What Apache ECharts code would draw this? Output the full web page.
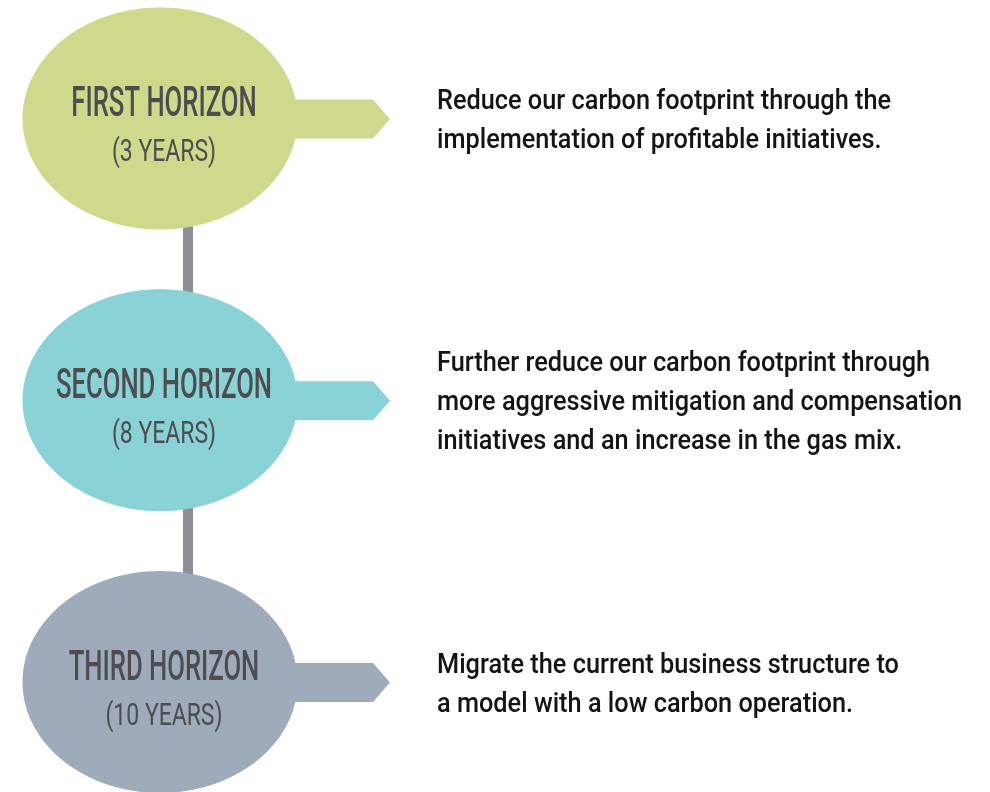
<!DOCTYPE html>
<html>
<head>
    <meta charset="UTF-8">
    <title>Horizons</title>
    <script src="https://cdn.jsdelivr.net/npm/echarts@6/dist/echarts.min.js"></script>
    <style>
        html, body { margin: 0; padding: 0; background: #ffffff; }
        #chart { width: 990px; height: 792px; }
    </style>
</head>
<body>
    <div id="chart"></div>
    <script>
        // steps of the roadmap, top to bottom
        const horizons = ['FIRST HORIZON', 'SECOND HORIZON', 'THIRD HORIZON'];
        const durations = ['(3 YEARS)', '(8 YEARS)', '(10 YEARS)'];
        const descriptions = [
            'Reduce our carbon footprint through the\nimplementation of profitable initiatives.',
            'Further reduce our carbon footprint through\nmore aggressive mitigation and compensation\ninitiatives and an increase in the gas mix.',
            'Migrate the current business structure to\na model with a low carbon operation.'
        ];
        const fills = ['#d0d98b', '#89d3d6', '#9eabbb'];

        const titleFont = '500 43px Roboto';
        const subFont = '32px Roboto';
        const descFont = '500 28px Roboto';

        // squeeze the fonts to look condensed like the original
        const ctx = document.createElement('canvas').getContext('2d');
        function fitScale(text, font, width) {
            ctx.font = font;
            return width / ctx.measureText(text).width;
        }
        const titleScale = fitScale('SECOND HORIZON', titleFont, 216);
        const subScale = fitScale('(10 YEARS)', subFont, 117);
        const descScale = fitScale('more aggressive mitigation and compensation', descFont, 525);

        const chart = echarts.init(document.getElementById('chart'));

        function renderStep(params, api) {
            const i = api.value(1);
            const c = api.coord([160, i]);
            const tip = api.coord([390, i]);
            const shoulder = api.coord([373, i]);
            const cx = c[0], cy = c[1];
            const ay = cy + 0.5;
            const fill = fills[i];
            return {
                type: 'group',
                children: [
                    {
                        type: 'polygon',
                        shape: {
                            points: [
                                [cx + 100, ay - 19.5], [shoulder[0], ay - 19.5],
                                [tip[0], ay], [shoulder[0], ay + 19.5], [cx + 100, ay + 19.5]
                            ]
                        },
                        style: { fill: fill }
                    },
                    {
                        type: 'ellipse',
                        shape: { cx: cx, cy: cy, rx: 137.5, ry: 111 },
                        style: { fill: fill }
                    },
                    {
                        type: 'text',
                        x: cx + 4, y: cy - 13,
                        scaleX: titleScale,
                        style: {
                            text: horizons[i], font: titleFont, fill: '#4d4d4f',
                            align: 'center', verticalAlign: 'middle'
                        }
                    },
                    {
                        type: 'text',
                        x: cx + 4, y: cy + 35,
                        scaleX: subScale,
                        style: {
                            text: durations[i], font: subFont, fill: '#4d4d4f',
                            align: 'center', verticalAlign: 'middle'
                        }
                    },
                    {
                        type: 'text',
                        x: api.coord([437, i])[0], y: cy + 3,
                        scaleX: descScale,
                        style: {
                            text: descriptions[i], font: descFont, fill: '#141414',
                            lineHeight: 39, align: 'left', verticalAlign: 'middle'
                        }
                    }
                ]
            };
        }

        const option = {
            animation: false,
            grid: { left: 0, right: 0, top: 0, bottom: 0 },
            xAxis: { type: 'value', min: 0, max: 990, show: false },
            yAxis: { type: 'value', min: -0.42, max: 2.39, inverse: true, show: false },
            series: [
                {
                    type: 'line',
                    silent: true,
                    symbol: 'none',
                    z: 1,
                    lineStyle: { width: 10, color: '#8f8e94' },
                    data: horizons.map((_, i) => [188, i])
                },
                {
                    type: 'custom',
                    silent: true,
                    z: 2,
                    renderItem: renderStep,
                    data: horizons.map((_, i) => [0, i])
                }
            ]
        };
        chart.setOption(option);
    </script>
</body>
</html>
